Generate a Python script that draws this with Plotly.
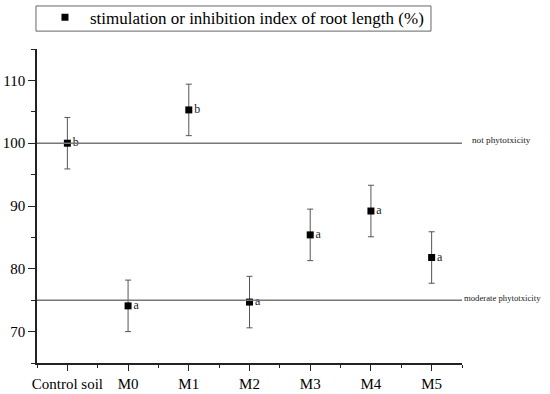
import plotly.graph_objects as go

categories = ["Control soil", "M0", "M1", "M2", "M3", "M4", "M5"]
values = [100.0, 74.1, 105.3, 74.7, 85.4, 89.2, 81.8]
errors = [4.1, 4.1, 4.1, 4.1, 4.1, 4.1, 4.1]
letters = ["b", "a", "b", "a", "a", "a", "a"]
ref_values = [100, 75]
ref_labels = ["not phytotxicity", "moderate phytotxicity"]
series_name = "stimulation or inhibition index of root length (%)"

SERIF = "'Liberation Serif', 'Times New Roman', 'DejaVu Serif', serif"

xpos = list(range(len(categories)))

fig = go.Figure()
fig.add_trace(go.Scatter(
    x=xpos, y=values, mode="markers+text",
    name=series_name,
    marker=dict(symbol="square", size=7, color="black"),
    error_y=dict(type="data", array=errors, visible=True, color="#555555", thickness=1, width=3),
    text=letters, textposition="middle right",
    textfont=dict(family=SERIF, size=12, color="#222222"),
    showlegend=True,
))

shapes = []
annotations = []
for v, lab, xoff, ysh, fs in zip(ref_values, ref_labels, [8, 0], [3.5, 2], [9.2, 8.7]):
    shapes.append(dict(type="line", xref="paper", yref="y", x0=0, x1=1, y0=v, y1=v,
                       line=dict(color="#777777", width=1.5)))
    annotations.append(dict(xref="paper", yref="y", x=1, y=v, text=lab, showarrow=False,
                            xanchor="left", yanchor="middle", xshift=xoff, yshift=ysh,
                            font=dict(family=SERIF, size=fs, color="#222222")))

# legend frame
shapes.append(dict(type="rect", xref="paper", yref="paper",
                   x0=-0.0024, x1=0.927, y0=1.057, y1=1.137,
                   line=dict(color="#666666", width=1), fillcolor="rgba(0,0,0,0)"))

fig.update_layout(
    width=550, height=394,
    margin=dict(l=37, r=88, t=49, b=31, autoexpand=False),
    paper_bgcolor="white", plot_bgcolor="white",
    shapes=shapes, annotations=annotations,
    font=dict(family=SERIF, color="black"),
    legend=dict(orientation="h", x=0.007, xanchor="left", y=1.157, yanchor="top",
                borderwidth=0, bgcolor="rgba(0,0,0,0)",
                font=dict(family=SERIF, size=17, color="black"),
                itemwidth=40),
    xaxis=dict(range=[-0.5, 6.5], tickvals=xpos, ticktext=categories, showgrid=False, zeroline=False,
               showline=True, linecolor="#222222", linewidth=1.5,
               ticks="outside", ticklen=6, tickwidth=1.2, tickcolor="#222222",
               minor=dict(tickvals=[i + 0.5 for i in range(-1, 7)], ticks="outside", ticklen=3.5,
                          tickwidth=1.2, tickcolor="#222222"),
               tickfont=dict(family=SERIF, size=15, color="black")),
    yaxis=dict(range=[65, 115], tickvals=[70, 80, 90, 100, 110], showgrid=False, zeroline=False,
               showline=True, linecolor="#222222", linewidth=1.5,
               ticks="outside", ticklen=7, tickwidth=1.2, tickcolor="#222222",
               minor=dict(tickvals=[65, 75, 85, 95, 105, 115], ticks="outside", ticklen=4,
                          tickwidth=1.2, tickcolor="#222222"),
               tickfont=dict(family=SERIF, size=15, color="black")),
)

fig.write_html("out.html", config={"displayModeBar": False},
               post_script="document.body.style.margin='0px';")
